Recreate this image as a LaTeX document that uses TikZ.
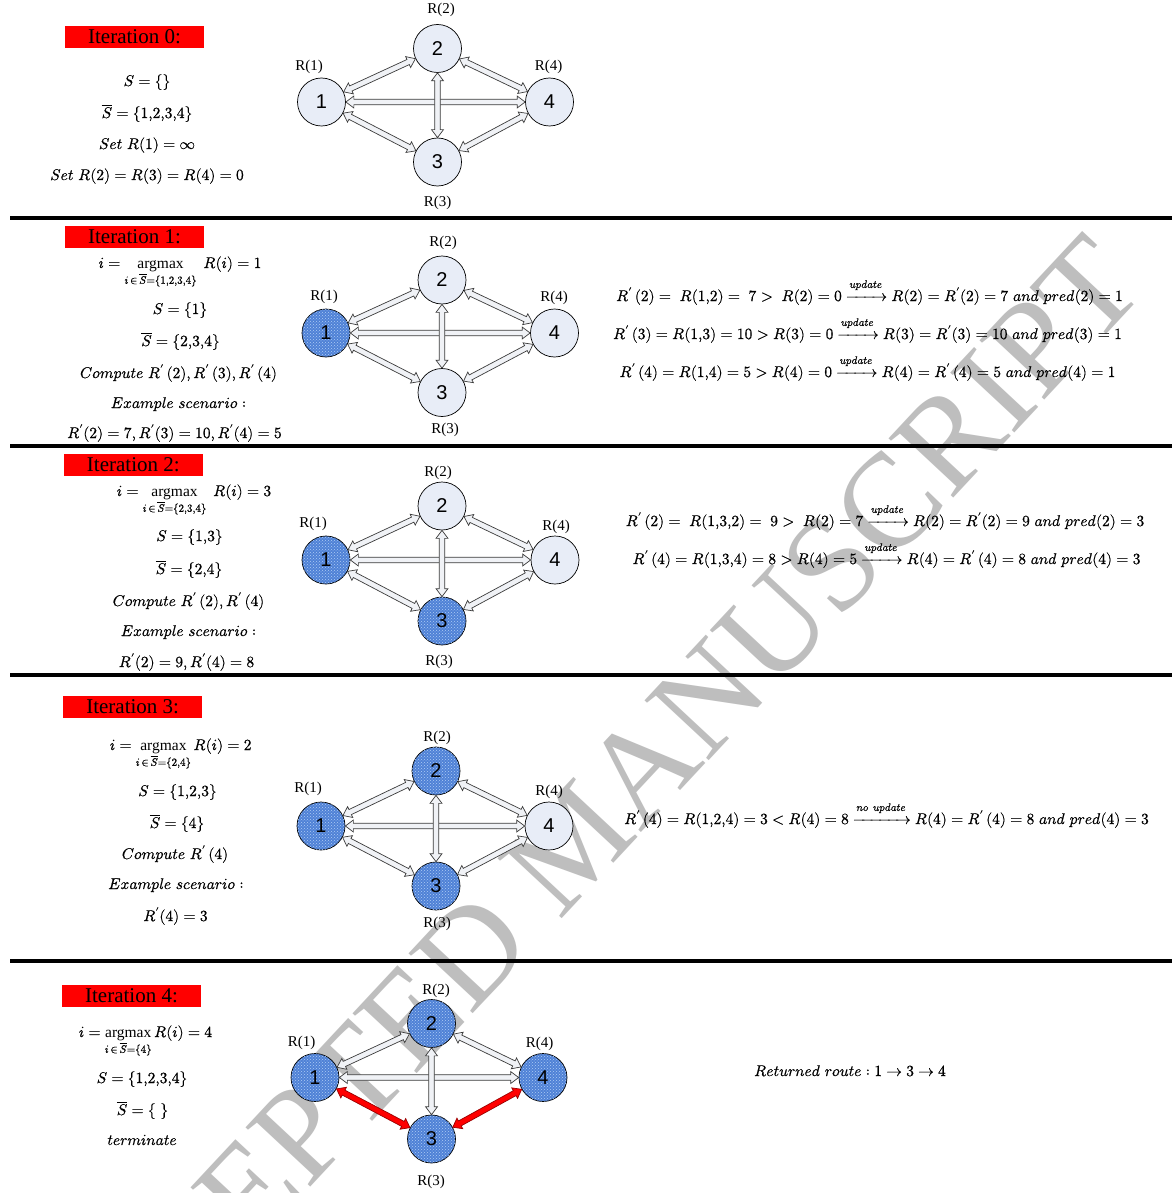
\documentclass[tikz,border=0pt]{standalone}
\usepackage{amsmath}
\usepackage{fontspec}
\usepackage{unicode-math}
\setmathfont{latinmodern-math.otf}[FakeBold=0.6]
\newfontfamily\timesf{Liberation Serif}
\newfontfamily\arialf{Liberation Sans}
\usetikzlibrary{calc,patterns}
\definecolor{nodefill}{RGB}{232,237,247}
\definecolor{visfill}{RGB}{79,129,214}
\definecolor{visdot}{RGB}{175,205,245}
\definecolor{edgecol}{RGB}{60,60,60}
\definecolor{edgefill}{RGB}{240,242,246}
\definecolor{wmcol}{RGB}{190,190,190}
\newcommand\Rq{R^{\prime}\,}
\newcommand\cm{{,}}
\newcommand\dedge[3]{%
  \path (#2) -- (#3) coordinate[pos=0] (es) coordinate[pos=1] (ee);
  \coordinate (ms) at ($(es)!8pt!(ee)$);
  \coordinate (me) at ($(ee)!8pt!(es)$);
  \draw[#1] (es) -- ($(ms)!6pt!90:(ee)$) -- ($(ms)!2.8pt!90:(ee)$) -- ($(me)!2.8pt!-90:(es)$) -- ($(me)!6pt!-90:(es)$) -- (ee) -- ($(me)!6pt!90:(es)$) -- ($(me)!2.8pt!90:(es)$) -- ($(ms)!2.8pt!-90:(ee)$) -- ($(ms)!6pt!-90:(ee)$) -- cycle;
}
\newcommand\alledges[1]{%
  \dedge{edgeshape}{#1n1}{#1n2}
  \dedge{edgeshape}{#1n2}{#1n4}
  \dedge{edgeshape}{#1n1}{#1n4}
  \dedge{edgeshape}{#1n1}{#1n3}
  \dedge{edgeshape}{#1n3}{#1n4}
  \dedge{edgeshape}{#1n2}{#1n3}
}
\tikzset{
  nd/.style={circle, draw=black, line width=0.7pt, fill=nodefill, minimum size=48pt, inner sep=0pt, font=\arialf\fontsize{20}{20}\selectfont},
  vis/.style={nd, fill=visfill, postaction={pattern=crosshatch dots, pattern color=visdot}},
  rl/.style={font=\timesf\fontsize{15}{15}\selectfont, inner sep=0pt},
  itertitle/.style={fill=red, inner sep=0pt, minimum width=139pt, minimum height=21.5pt, font=\timesf\fontsize{21}{21}\selectfont},
  mt/.style={font=\fontsize{15.5}{18}\selectfont, inner sep=0pt, anchor=base},
  edgeshape/.style={draw=edgecol, fill=edgefill, line width=0.7pt, line join=miter},
  redshape/.style={draw=red!60!black, fill=red, line width=0.7pt, line join=miter},
  sepline/.style={line width=3.4pt, draw=black},
  wmark/.style={font=\timesf\fontsize{134}{134}\selectfont, text=wmcol, inner sep=0pt, rotate=47, anchor=base west}
}
\begin{document}
\begin{tikzpicture}[x=1pt, y=-1pt]
\useasboundingbox (0,0) rectangle (1172,1193);
\fill[white] (0,0) rectangle (1172,1193);
% watermark
\node[wmark] (wm) at (64,1452) {ACCEPTED MANUSCRIPT};
% separators
\draw[sepline] (10,218) -- (1172,218);
\draw[sepline] (10,446) -- (1172,446);
\draw[sepline] (10,675) -- (1172,675);
\draw[sepline] (10,961) -- (1172,961);
% titles
\node[itertitle] (it0) at (134.5,37) {Iteration 0:};
\node[itertitle] (it1) at (134.5,237) {Iteration 1:};
\node[itertitle] (it2) at (133.3,465) {Iteration 2:};
\node[itertitle] (it3) at (132.7,707) {Iteration 3:};
\node[itertitle] (it4) at (131.5,996) {Iteration 4:};
% ---------- graph 0
\node[nd] (g0n1) at (321.5,102) {1};
\node[nd] (g0n2) at (437.5,48.5) {2};
\node[nd] (g0n3) at (437.5,162) {3};
\node[nd] (g0n4) at (549.5,102) {4};
\alledges{g0}
\node[rl] (g0l1) at (309,66.5) {R(1)};
\node[rl] (g0l2) at (441,10) {R(2)};
\node[rl] (g0l3) at (437.5,202.5) {R(3)};
\node[rl] (g0l4) at (548.5,66.5) {R(4)};
% ---------- graph 1
\node[vis] (g1n1) at (326,333) {1};
\node[nd] (g1n2) at (442,280) {2};
\node[nd] (g1n3) at (442,392.5) {3};
\node[nd] (g1n4) at (554.5,333) {4};
\alledges{g1}
\node[rl] (g1l1) at (324,297) {R(1)};
\node[rl] (g1l2) at (443,242.5) {R(2)};
\node[rl] (g1l3) at (445,430) {R(3)};
\node[rl] (g1l4) at (554,298) {R(4)};
% ---------- graph 2
\node[vis] (g2n1) at (326,560) {1};
\node[nd] (g2n2) at (442,506) {2};
\node[vis] (g2n3) at (442,621) {3};
\node[nd] (g2n4) at (555,560) {4};
\alledges{g2}
\node[rl] (g2l1) at (313,524) {R(1)};
\node[rl] (g2l2) at (438,473) {R(2)};
\node[rl] (g2l3) at (439,662) {R(3)};
\node[rl] (g2l4) at (556,527) {R(4)};
% ---------- graph 3
\node[vis] (g3n1) at (321,826) {1};
\node[vis] (g3n2) at (436,771) {2};
\node[vis] (g3n3) at (436,886) {3};
\node[nd] (g3n4) at (549,826) {4};
\alledges{g3}
\node[rl] (g3l1) at (308,789) {R(1)};
\node[rl] (g3l2) at (437,738) {R(2)};
\node[rl] (g3l3) at (437,924) {R(3)};
\node[rl] (g3l4) at (549,792) {R(4)};
% ---------- graph 4
\node[vis] (g4n1) at (315,1077.5) {1};
\node[vis] (g4n2) at (431.5,1023.5) {2};
\node[vis] (g4n3) at (431.5,1139) {3};
\node[vis] (g4n4) at (543,1077.5) {4};
\dedge{edgeshape}{g4n1}{g4n2}
\dedge{edgeshape}{g4n2}{g4n4}
\dedge{edgeshape}{g4n1}{g4n4}
\dedge{redshape}{g4n1}{g4n3}
\dedge{redshape}{g4n3}{g4n4}
\dedge{edgeshape}{g4n2}{g4n3}
\node[rl] (g4l1) at (301.5,1042.5) {R(1)};
\node[rl] (g4l2) at (436,991) {R(2)};
\node[rl] (g4l3) at (431,1182) {R(3)};
\node[rl] (g4l4) at (539.5,1044) {R(4)};
% ---------- text iteration 0
\node[mt] (t0a) at (147,86) {$S=\{\}$};
\node[mt] (t0b) at (147,118) {$\overline{S}=\{1\cm2\cm3\cm4\}$};
\node[mt] (t0c) at (147,149) {$Set\ R(1)=\infty$};
\node[mt] (t0d) at (147,180) {$Set\ R(2)=R(3)=R(4)=0$};
% ---------- text iteration 1
\node[mt] (t1a) at (180,268) {$i=\mathop{\text{\timesf argmax}}\limits_{i\,\in\,\overline{S}=\{1\cm2\cm3\cm4\}}\;R(i)=1$};
\node[mt] (t1b) at (180,314) {$S=\{1\}$};
\node[mt] (t1c) at (180.5,346) {$\overline{S}=\{2\cm3\cm4\}$};
\node[mt] (t1d) at (178.5,378) {$Compute\ \Rq(2),\Rq(3),\Rq(4)$};
\node[mt] (t1e) at (178.5,408) {$Example\ scenario:$};
\node[mt] (t1f) at (174.5,438) {$R^{\prime}(2)=7,R^{\prime}(3)=10,R^{\prime}(4)=5$};
\node[mt] (r1a) at (869.5,301) {$\Rq(2)=\;R(1\cm2)=\;7>\;R(2)=0\xrightarrow{update}R(2)=R^{\prime}(2)=7\ and\ pred(2)=1$};
\node[mt] (r1b) at (867.5,339) {$\Rq(3)=R(1\cm3)=10>R(3)=0\xrightarrow{update}R(3)=R^{\prime}(3)=10\ and\ pred(3)=1$};
\node[mt] (r1c) at (867.5,377) {$\Rq(4)=R(1\cm4)=5>R(4)=0\xrightarrow{update}R(4)=\Rq(4)=5\ and\ pred(4)=1$};
% ---------- text iteration 2
\node[mt] (t2a) at (194,496) {$i=\mathop{\text{\timesf argmax}}\limits_{i\,\in\,\overline{S}=\{2\cm3\cm4\}}\;R(i)=3$};
\node[mt] (t2b) at (189.5,541) {$S=\{1\cm3\}$};
\node[mt] (t2c) at (189,574) {$\overline{S}=\{2\cm4\}$};
\node[mt] (t2d) at (188.5,606) {$Compute\ \Rq(2),\Rq(4)$};
\node[mt] (t2e) at (188.5,636) {$Example\ scenario:$};
\node[mt] (t2f) at (186.5,667) {$R^{\prime}(2)=9,R^{\prime}(4)=8$};
\node[mt] (r2a) at (885,526) {$\Rq(2)=\;R(1\cm3\cm2)=\;9>\;R(2)=7\xrightarrow{update}R(2)=R^{\prime}(2)=9\ and\ pred(2)=3$};
\node[mt] (r2b) at (886.5,564) {$\Rq(4)=R(1\cm3\cm4)=8>R(4)=5\xrightarrow{update}R(4)=\Rq(4)=8\ and\ pred(4)=3$};
% ---------- text iteration 3
\node[mt] (t3a) at (180.7,750) {$i=\mathop{\text{\timesf argmax}}\limits_{i\,\in\,\overline{S}=\{2\cm4\}}R(i)=2$};
\node[mt] (t3b) at (177.5,796) {$S=\{1\cm2\cm3\}$};
\node[mt] (t3c) at (177,828) {$\overline{S}=\{4\}$};
\node[mt] (t3d) at (175,859) {$Compute\ \Rq(4)$};
\node[mt] (t3e) at (176,889) {$Example\ scenario:$};
\node[mt] (t3f) at (175.5,921) {$R^{\prime}(4)=3$};
\node[mt] (r3a) at (886.5,824) {$\Rq(4)=R(1\cm2\cm4)=3<R(4)=8\xrightarrow{no\ update}R(4)=\Rq(4)=8\ and\ pred(4)=3$};
% ---------- text iteration 4
\node[mt] (t4a) at (145.5,1037) {$i=\mathop{\text{\timesf argmax}}\limits_{i\,\in\,\overline{S}=\{4\}}R(i)=4$};
\node[mt] (t4b) at (142,1083) {$S=\{1\cm2\cm3\cm4\}$};
\node[mt] (t4c) at (142.5,1115) {$\overline{S}=\{\ \}$};
\node[mt] (t4d) at (142,1145) {$terminate$};
\node[mt] (r4a) at (850,1076) {$Returned\ route:1\rightarrow3\rightarrow4$};
\end{tikzpicture}
\end{document}
